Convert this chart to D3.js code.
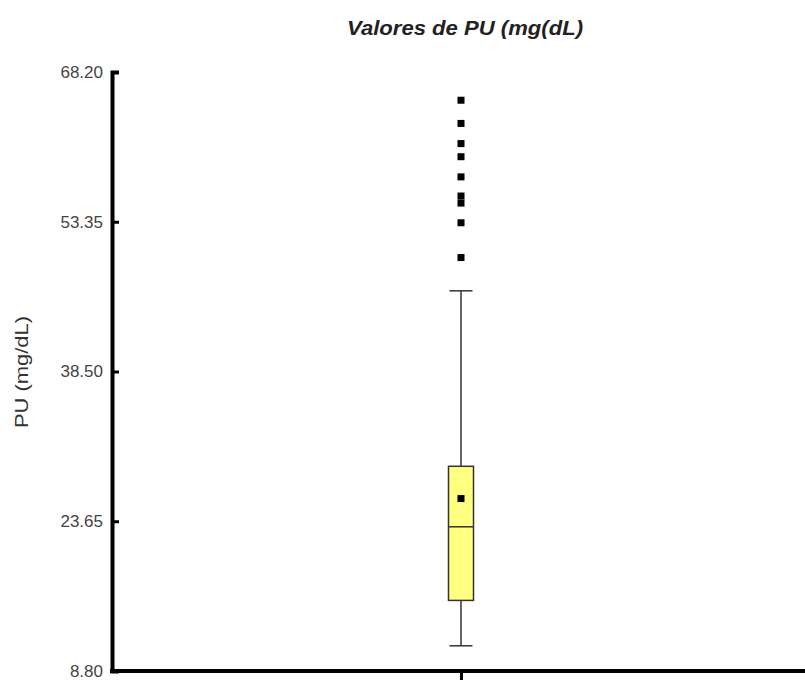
<!DOCTYPE html>
<html>
<head>
<meta charset="utf-8">
<script src="https://cdn.jsdelivr.net/npm/d3@7"></script>
<style>
  body { margin: 0; background: #fff; }
  svg { display: block; }
</style>
</head>
<body>
<svg id="plot" width="805" height="684"></svg>
<script>
var categories = ['PU'];
var yTicks = [8.80, 23.65, 38.50, 53.35, 68.20];
// box statistics
var lowerWhisker = [11.3];
var q1 = [15.8];
var median = [23.1];
var q3 = [29.1];
var upperWhisker = [46.5];
var mean = [25.9];
var outliers = [65.4, 63.1, 61.1, 59.8, 57.8, 55.9, 55.2, 53.25, 49.8];

var svg = d3.select('#plot');

var x = d3.scalePoint().domain(categories).range([112, 810]);
var y = d3.scaleLinear().domain([8.8, 68.2]).range([671, 72]);

var boxW = 25;
var font = 'Liberation Sans, Arial, sans-serif';

// title
svg.append('text')
    .attr('x', 465).attr('y', 35)
    .attr('text-anchor', 'middle')
    .style('font-family', font)
    .style('font-size', '21px')
    .style('font-weight', 'bold')
    .style('font-style', 'italic')
    .attr('fill', '#222')
    .attr('textLength', 236)
    .attr('lengthAdjust', 'spacingAndGlyphs')
    .text('Valores de PU (mg(dL)');

// y label
svg.append('text')
    .attr('transform', 'translate(28,372) rotate(-90)')
    .attr('text-anchor', 'middle')
    .style('font-family', font)
    .style('font-size', '19px')
    .attr('fill', '#333')
    .attr('textLength', 112)
    .attr('lengthAdjust', 'spacingAndGlyphs')
    .text('PU (mg/dL)');

// y axis
var yAxis = svg.append('g')
    .attr('transform', 'translate(112,0)')
    .call(d3.axisRight(y).tickValues(yTicks).tickSize(7).tickFormat(d3.format('.2f')));
yAxis.select('.domain').attr('stroke', '#000').attr('stroke-width', 4);
yAxis.selectAll('.tick line').attr('stroke', '#000').attr('stroke-width', 3);
yAxis.selectAll('.tick text')
    .attr('x', -9)
    .attr('text-anchor', 'end')
    .style('font-family', font)
    .style('font-size', '17px')
    .attr('fill', '#444');

// x axis
var xAxis = svg.append('g')
    .attr('transform', 'translate(0,671)')
    .call(d3.axisBottom(x).tickSize(9).tickFormat(''));
xAxis.select('.domain').attr('d', 'M110,0H805').attr('stroke', '#000').attr('stroke-width', 4);
xAxis.selectAll('.tick line').attr('stroke', '#000').attr('stroke-width', 3);

var g = svg.append('g');

categories.forEach(function(c, i) {
    var cx = x(c);
    // whiskers
    g.append('line')
        .attr('x1', cx).attr('x2', cx)
        .attr('y1', y(upperWhisker[i])).attr('y2', y(q3[i]))
        .attr('stroke', '#333').attr('stroke-width', 1.5);
    g.append('line')
        .attr('x1', cx).attr('x2', cx)
        .attr('y1', y(q1[i])).attr('y2', y(lowerWhisker[i]))
        .attr('stroke', '#333').attr('stroke-width', 1.5);
    [upperWhisker[i], lowerWhisker[i]].forEach(function(v) {
        g.append('line')
            .attr('x1', cx - boxW / 2 + 1).attr('x2', cx + boxW / 2 - 1)
            .attr('y1', y(v)).attr('y2', y(v))
            .attr('stroke', '#333').attr('stroke-width', 1.5);
    });
    // box
    g.append('rect')
        .attr('x', cx - boxW / 2).attr('width', boxW)
        .attr('y', y(q3[i])).attr('height', y(q1[i]) - y(q3[i]))
        .attr('fill', '#ffff80').attr('stroke', '#333').attr('stroke-width', 1.5);
    g.append('line')
        .attr('x1', cx - boxW / 2).attr('x2', cx + boxW / 2)
        .attr('y1', y(median[i])).attr('y2', y(median[i]))
        .attr('stroke', '#333').attr('stroke-width', 1.5);
    // mean
    g.append('rect')
        .attr('x', cx - 3.5).attr('y', y(mean[i]) - 3.5)
        .attr('width', 7).attr('height', 7).attr('fill', '#000');
});

// outliers
g.selectAll('.out')
    .data(outliers)
    .enter().append('rect')
    .attr('class', 'out')
    .attr('x', x('PU') - 3.5)
    .attr('y', function(d) { return y(d) - 3.5; })
    .attr('width', 7).attr('height', 7)
    .attr('fill', '#000');
</script>
</body>
</html>
